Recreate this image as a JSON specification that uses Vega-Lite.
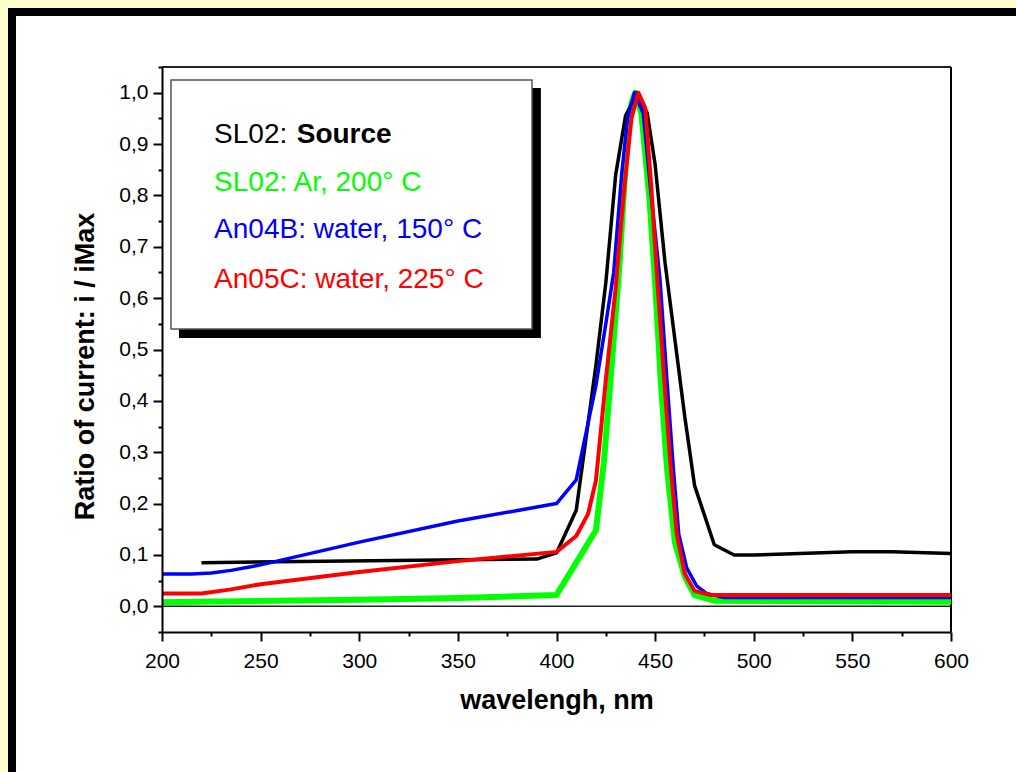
{
  "$schema": "https://vega.github.io/schema/vega-lite/v6.json",
  "width": 789,
  "height": 565,
  "autosize": {"type": "none"},
  "padding": {"left": 162, "top": 67, "right": 65, "bottom": 140},
  "background": "#FFFFCC",
  "config": {
    "view": {"stroke": null},
    "font": "Liberation Sans",
    "axis": {
      "labelFont": "Liberation Sans",
      "labelFontSize": 21,
      "labelColor": "black",
      "labelFlush": false,
      "labelOverlap": false,
      "titleFont": "Liberation Sans",
      "titleFontSize": 27,
      "titleFontWeight": "bold",
      "titleColor": "black",
      "domainColor": "black",
      "domainWidth": 2,
      "tickColor": "black",
      "tickWidth": 2,
      "grid": false
    }
  },
  "resolve": {"axis": {"x": "independent", "y": "independent"}},
  "data": {
    "values": [
      {"series": "Ar", "w": 200, "v": 0.008},
      {"series": "Ar", "w": 300, "v": 0.013},
      {"series": "Ar", "w": 350, "v": 0.016},
      {"series": "Ar", "w": 400, "v": 0.022},
      {"series": "Ar", "w": 420, "v": 0.148},
      {"series": "Ar", "w": 424, "v": 0.28},
      {"series": "Ar", "w": 428, "v": 0.47},
      {"series": "Ar", "w": 432, "v": 0.67},
      {"series": "Ar", "w": 436, "v": 0.92},
      {"series": "Ar", "w": 438, "v": 0.98},
      {"series": "Ar", "w": 440, "v": 1.0},
      {"series": "Ar", "w": 443, "v": 0.96},
      {"series": "Ar", "w": 447, "v": 0.8},
      {"series": "Ar", "w": 450, "v": 0.63},
      {"series": "Ar", "w": 453, "v": 0.43},
      {"series": "Ar", "w": 456, "v": 0.27},
      {"series": "Ar", "w": 460, "v": 0.125},
      {"series": "Ar", "w": 465, "v": 0.058},
      {"series": "Ar", "w": 470, "v": 0.022},
      {"series": "Ar", "w": 480, "v": 0.011},
      {"series": "Ar", "w": 600, "v": 0.009},
      {"series": "Source", "w": 220, "v": 0.085},
      {"series": "Source", "w": 390, "v": 0.092},
      {"series": "Source", "w": 400, "v": 0.104},
      {"series": "Source", "w": 410, "v": 0.187},
      {"series": "Source", "w": 420, "v": 0.47},
      {"series": "Source", "w": 425, "v": 0.63},
      {"series": "Source", "w": 430, "v": 0.84},
      {"series": "Source", "w": 435, "v": 0.955},
      {"series": "Source", "w": 441, "v": 1.0},
      {"series": "Source", "w": 446, "v": 0.96},
      {"series": "Source", "w": 450, "v": 0.86},
      {"series": "Source", "w": 455, "v": 0.67},
      {"series": "Source", "w": 460, "v": 0.52},
      {"series": "Source", "w": 465, "v": 0.37},
      {"series": "Source", "w": 470, "v": 0.235},
      {"series": "Source", "w": 480, "v": 0.12},
      {"series": "Source", "w": 490, "v": 0.1},
      {"series": "Source", "w": 500, "v": 0.1},
      {"series": "Source", "w": 550, "v": 0.106},
      {"series": "Source", "w": 570, "v": 0.106},
      {"series": "Source", "w": 600, "v": 0.103},
      {"series": "W150", "w": 200, "v": 0.063},
      {"series": "W150", "w": 215, "v": 0.063},
      {"series": "W150", "w": 225, "v": 0.065},
      {"series": "W150", "w": 235, "v": 0.07},
      {"series": "W150", "w": 245, "v": 0.077},
      {"series": "W150", "w": 255, "v": 0.085},
      {"series": "W150", "w": 300, "v": 0.125},
      {"series": "W150", "w": 350, "v": 0.166},
      {"series": "W150", "w": 400, "v": 0.2},
      {"series": "W150", "w": 410, "v": 0.246},
      {"series": "W150", "w": 420, "v": 0.43},
      {"series": "W150", "w": 425, "v": 0.55},
      {"series": "W150", "w": 429, "v": 0.65},
      {"series": "W150", "w": 433, "v": 0.84},
      {"series": "W150", "w": 436, "v": 0.95},
      {"series": "W150", "w": 439.5, "v": 1.0},
      {"series": "W150", "w": 444, "v": 0.96},
      {"series": "W150", "w": 448, "v": 0.8},
      {"series": "W150", "w": 452.5, "v": 0.635},
      {"series": "W150", "w": 456, "v": 0.44},
      {"series": "W150", "w": 459.3, "v": 0.265},
      {"series": "W150", "w": 462, "v": 0.14},
      {"series": "W150", "w": 466, "v": 0.075},
      {"series": "W150", "w": 471, "v": 0.04},
      {"series": "W150", "w": 476, "v": 0.025},
      {"series": "W150", "w": 485, "v": 0.017},
      {"series": "W150", "w": 600, "v": 0.017},
      {"series": "W225", "w": 200, "v": 0.025},
      {"series": "W225", "w": 220, "v": 0.025},
      {"series": "W225", "w": 235, "v": 0.033},
      {"series": "W225", "w": 250, "v": 0.043},
      {"series": "W225", "w": 300, "v": 0.067},
      {"series": "W225", "w": 350, "v": 0.088},
      {"series": "W225", "w": 400, "v": 0.106},
      {"series": "W225", "w": 410, "v": 0.137},
      {"series": "W225", "w": 416, "v": 0.18},
      {"series": "W225", "w": 420, "v": 0.245},
      {"series": "W225", "w": 425, "v": 0.44},
      {"series": "W225", "w": 430, "v": 0.62},
      {"series": "W225", "w": 434, "v": 0.8},
      {"series": "W225", "w": 438, "v": 0.95},
      {"series": "W225", "w": 441.5, "v": 1.0},
      {"series": "W225", "w": 445, "v": 0.97},
      {"series": "W225", "w": 448, "v": 0.82},
      {"series": "W225", "w": 451, "v": 0.64},
      {"series": "W225", "w": 455, "v": 0.42},
      {"series": "W225", "w": 458, "v": 0.265},
      {"series": "W225", "w": 461, "v": 0.14},
      {"series": "W225", "w": 465, "v": 0.064},
      {"series": "W225", "w": 470, "v": 0.03},
      {"series": "W225", "w": 478, "v": 0.022},
      {"series": "W225", "w": 600, "v": 0.022}
    ]
  },
  "layer": [
    {
      "data": {"values": [{}]},
      "mark": {"type": "rect", "fill": "white", "stroke": "black", "strokeWidth": 8},
      "encoding": {
        "x": {"datum": 123.96, "scale": {"domain": [200, 600], "nice": false, "zero": false}, "axis": null},
        "x2": {"datum": 700},
        "y": {"datum": 1.1571, "scale": {"domain": [-0.05, 1.05], "nice": false, "zero": false}, "axis": null},
        "y2": {"datum": -0.5}
      }
    },
    {
      "data": {"values": [{}]},
      "mark": {"type": "rule", "color": "#222222", "strokeWidth": 1.5},
      "encoding": {
        "y": {"datum": 0, "scale": {"domain": [-0.05, 1.05], "nice": false, "zero": false}, "axis": null}
      }
    },
    {
      "data": {"values": [{}]},
      "mark": {"type": "rule", "color": "#222222", "strokeWidth": 2},
      "encoding": {
        "y": {"datum": 1.05, "scale": {"domain": [-0.05, 1.05], "nice": false, "zero": false}, "axis": null}
      }
    },
    {
      "data": {"values": [{}]},
      "mark": {"type": "rule", "color": "black", "strokeWidth": 2},
      "encoding": {
        "x": {"datum": 600, "scale": {"domain": [200, 600], "nice": false, "zero": false}, "axis": null}
      }
    },
    {
      "data": {"values": [{}]},
      "mark": {"type": "rect", "fill": "black"},
      "encoding": {
        "x": {"datum": 208.6, "scale": {"domain": [200, 600], "nice": false, "zero": false}, "axis": null},
        "x2": {"datum": 392.1},
        "y": {"datum": 1.009, "scale": {"domain": [-0.05, 1.05], "nice": false, "zero": false}, "axis": null},
        "y2": {"datum": 0.5224}
      }
    },
    {
      "data": {"values": [{}]},
      "mark": {"type": "rect", "fill": "white", "stroke": "#555555", "strokeWidth": 1.5},
      "encoding": {
        "x": {"datum": 204.56, "scale": {"domain": [200, 600], "nice": false, "zero": false}, "axis": null},
        "x2": {"datum": 387.58},
        "y": {"datum": 1.0247, "scale": {"domain": [-0.05, 1.05], "nice": false, "zero": false}, "axis": null},
        "y2": {"datum": 0.5399}
      }
    },
    {
      "data": {"values": [{}]},
      "mark": {"type": "text", "text": "SL02: ", "font": "Liberation Sans", "fontSize": 28, "color": "black", "align": "left", "baseline": "alphabetic"},
      "encoding": {
        "x": {"datum": 226.4, "scale": {"domain": [200, 600], "nice": false, "zero": false}, "axis": null},
        "y": {"datum": 0.9026, "scale": {"domain": [-0.05, 1.05], "nice": false, "zero": false}, "axis": null}
      }
    },
    {
      "data": {"values": [{}]},
      "mark": {"type": "text", "text": "Source", "font": "Liberation Sans", "fontSize": 28, "fontWeight": "bold", "color": "black", "align": "left", "baseline": "alphabetic"},
      "encoding": {
        "x": {"datum": 268.3, "scale": {"domain": [200, 600], "nice": false, "zero": false}, "axis": null},
        "y": {"datum": 0.9026, "scale": {"domain": [-0.05, 1.05], "nice": false, "zero": false}, "axis": null}
      }
    },
    {
      "data": {"values": [{}]},
      "mark": {"type": "text", "text": "SL02: Ar, 200° C", "font": "Liberation Sans", "fontSize": 28, "color": "#00FF00", "align": "left", "baseline": "alphabetic"},
      "encoding": {
        "x": {"datum": 226.4, "scale": {"domain": [200, 600], "nice": false, "zero": false}, "axis": null},
        "y": {"datum": 0.8092, "scale": {"domain": [-0.05, 1.05], "nice": false, "zero": false}, "axis": null}
      }
    },
    {
      "data": {"values": [{}]},
      "mark": {"type": "text", "text": "An04B: water, 150° C", "font": "Liberation Sans", "fontSize": 28, "color": "#0000FF", "align": "left", "baseline": "alphabetic"},
      "encoding": {
        "x": {"datum": 226.4, "scale": {"domain": [200, 600], "nice": false, "zero": false}, "axis": null},
        "y": {"datum": 0.7165, "scale": {"domain": [-0.05, 1.05], "nice": false, "zero": false}, "axis": null}
      }
    },
    {
      "data": {"values": [{}]},
      "mark": {"type": "text", "text": "An05C: water, 225° C", "font": "Liberation Sans", "fontSize": 28, "color": "#FF0000", "align": "left", "baseline": "alphabetic"},
      "encoding": {
        "x": {"datum": 226.4, "scale": {"domain": [200, 600], "nice": false, "zero": false}, "axis": null},
        "y": {"datum": 0.6203, "scale": {"domain": [-0.05, 1.05], "nice": false, "zero": false}, "axis": null}
      }
    },
    {
      "transform": [{"filter": "datum.series === 'Ar'"}],
      "mark": {"type": "line", "color": "#00FF00", "strokeWidth": 6, "strokeJoin": "round"},
      "encoding": {
        "x": {
          "field": "w", "type": "quantitative",
          "scale": {"domain": [200, 600], "nice": false, "zero": false},
          "axis": {
            "orient": "bottom",
            "zindex": 2,
            "title": "wavelengh, nm",
            "values": [200, 250, 300, 350, 400, 450, 500, 550, 600],
            "tickSize": 9,
            "labelPadding": 9,
            "titlePadding": 16
          }
        },
        "y": {
          "field": "v", "type": "quantitative",
          "scale": {"domain": [-0.05, 1.05], "nice": false, "zero": false},
          "axis": {
            "orient": "left",
            "zindex": 2,
            "title": "Ratio of current: i / iMax",
            "titleY": 299,
            "values": [0, 0.1, 0.2, 0.3, 0.4, 0.5, 0.6, 0.7, 0.8, 0.9, 1.0],
            "tickSize": 9,
            "labelExpr": "replace(format(datum.value, '.1f'), '.', ',')",
            "labelPadding": 5,
            "titlePadding": 19
          }
        }
      }
    },
    {
      "transform": [{"filter": "datum.series === 'Source'"}],
      "mark": {"type": "line", "color": "black", "strokeWidth": 3.5, "strokeJoin": "round"},
      "encoding": {
        "x": {
          "field": "w", "type": "quantitative",
          "scale": {"domain": [200, 600], "nice": false, "zero": false},
          "axis": {"orient": "bottom", "zindex": 2, "title": null, "labels": false, "domain": false, "tickSize": 4,
                   "values": [225, 275, 325, 375, 425, 475, 525, 575]}
        },
        "y": {
          "field": "v", "type": "quantitative",
          "scale": {"domain": [-0.05, 1.05], "nice": false, "zero": false},
          "axis": {"orient": "left", "zindex": 2, "title": null, "labels": false, "domain": false, "tickSize": 4,
                   "values": [-0.05, 0.05, 0.15, 0.25, 0.35, 0.45, 0.55, 0.65, 0.75, 0.85, 0.95, 1.05]}
        }
      }
    },
    {
      "transform": [{"filter": "datum.series === 'W150'"}],
      "mark": {"type": "line", "color": "#0000FF", "strokeWidth": 3.5, "strokeJoin": "round"},
      "encoding": {
        "x": {"field": "w", "type": "quantitative", "scale": {"domain": [200, 600], "nice": false, "zero": false}, "axis": null},
        "y": {"field": "v", "type": "quantitative", "scale": {"domain": [-0.05, 1.05], "nice": false, "zero": false}, "axis": null}
      }
    },
    {
      "transform": [{"filter": "datum.series === 'W225'"}],
      "mark": {"type": "line", "color": "#FF0000", "strokeWidth": 4, "strokeJoin": "round"},
      "encoding": {
        "x": {"field": "w", "type": "quantitative", "scale": {"domain": [200, 600], "nice": false, "zero": false}, "axis": null},
        "y": {"field": "v", "type": "quantitative", "scale": {"domain": [-0.05, 1.05], "nice": false, "zero": false}, "axis": null}
      }
    }
  ]
}
